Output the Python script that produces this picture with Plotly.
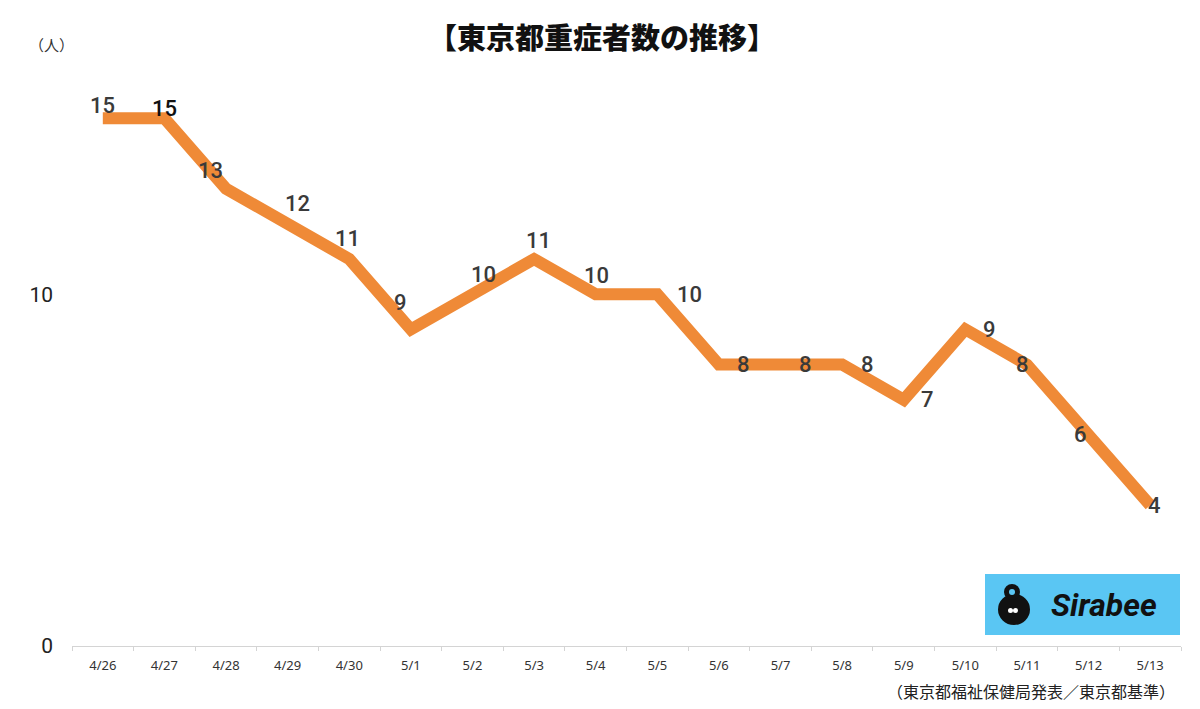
import plotly.graph_objects as go

dates = ["4/26", "4/27", "4/28", "4/29", "4/30", "5/1", "5/2", "5/3", "5/4",
         "5/5", "5/6", "5/7", "5/8", "5/9", "5/10", "5/11", "5/12", "5/13"]
cases = [15, 15, 13, 12, 11, 9, 10, 11, 10, 10, 8, 8, 8, 7, 9, 8, 6, 4]
# label offsets (px) relative to each point
label_dx = [0, 0, -16, 10, -2, -10, 11, 4, 1, 32, 25, 25, 25, 24, 24, -4, -8, 4]
label_dy = [13, 10, 18, 20, 21, 27, 20, 19, 19, 0, 0, 0, 0, 0, 0, 0, 0, 0]

ORANGE = "#EF8A37"
L, R, T, B = 72, 19, 48, 63
W, H = 1200, 709
plot_h = H - T - B
plot_w = W - L - R


def px(xp):
    return (xp - L) / plot_w


def py(yp):
    return (H - B - yp) / plot_h


fig = go.Figure()
fig.add_trace(go.Scatter(
    x=dates, y=cases, mode="lines",
    line=dict(color=ORANGE, width=12),
    hoverinfo="skip", showlegend=False,
))

for i, (d, v) in enumerate(zip(dates, cases)):
    fig.add_annotation(
        x=d, y=v, text=str(v), showarrow=False,
        xshift=label_dx[i], yshift=label_dy[i],
        font=dict(family="Roboto, Noto Sans, sans-serif", size=22, weight=500,
                  color="#111" if i == 1 else "#3a3a3a"),
    )

fig.add_annotation(xref="paper", yref="paper", x=px(602), y=py(36),
                   xanchor="center", yanchor="middle",
                   text="【東京都重症者数の推移】", showarrow=False,
                   font=dict(family="Noto Sans CJK JP", size=29, weight=900, color="#111"))
fig.add_annotation(xref="paper", yref="paper", x=px(27), y=py(44),
                   xanchor="left", yanchor="middle", showarrow=False,
                   text="（人）", font=dict(family="Noto Sans CJK JP", size=15, color="#333"))
fig.add_annotation(xref="paper", yref="paper", x=px(1177), y=py(691),
                   xanchor="right", yanchor="middle", showarrow=False,
                   text="（東京都福祉保健局発表／東京都基準）",
                   font=dict(family="Noto Sans CJK JP", size=16, color="#222"))

fig.update_layout(
    width=W, height=H,
    margin=dict(l=L, r=R, t=T, b=B),
    paper_bgcolor="white", plot_bgcolor="white",
    xaxis=dict(
        type="category", tickson="boundaries", showgrid=False,
        showline=True, linecolor="#d4d4d4", linewidth=1,
        ticks="outside", ticklen=4, tickcolor="#d4d4d4",
        tickfont=dict(family="Noto Sans, sans-serif", size=13, color="#333"),
        range=[-0.5, len(dates) - 0.5], zeroline=False,
        ticklabelstandoff=7,
    ),
    yaxis=dict(
        range=[0, 17], tickvals=[0, 10], showgrid=False, zeroline=False,
        showline=False,
        tickfont=dict(family="Roboto, Noto Sans, sans-serif", size=21, color="#222"),
        ticklabelstandoff=18,
    ),
)

# Sirabee logo badge
BLUE = "#5AC6F3"
fig.add_shape(type="rect", xref="paper", yref="paper",
              x0=px(985), x1=px(1180), y0=py(635), y1=py(574),
              fillcolor=BLUE, line=dict(width=0), layer="above")
fig.add_shape(type="circle", xref="paper", yref="paper",
              x0=px(998), x1=px(1030), y0=py(625), y1=py(594),
              fillcolor="#111", line=dict(width=0), layer="above")
fig.add_shape(type="circle", xref="paper", yref="paper",
              x0=px(1004), x1=px(1020), y0=py(600), y1=py(584),
              fillcolor="#111", line=dict(width=0), layer="above")
fig.add_shape(type="circle", xref="paper", yref="paper",
              x0=px(1009), x1=px(1015), y0=py(595), y1=py(589),
              fillcolor=BLUE, line=dict(width=0), layer="above")
fig.add_shape(type="circle", xref="paper", yref="paper",
              x0=px(1008), x1=px(1013), y0=py(613), y1=py(608),
              fillcolor="white", line=dict(width=0), layer="above")
fig.add_shape(type="circle", xref="paper", yref="paper",
              x0=px(1013), x1=px(1018), y0=py(613), y1=py(608),
              fillcolor="white", line=dict(width=0), layer="above")
fig.add_annotation(xref="paper", yref="paper", x=px(1104), y=py(605),
                   text="<b><i>Sirabee</i></b>", showarrow=False,
                   xanchor="center", yanchor="middle",
                   font=dict(family="Roboto, sans-serif", size=32, weight=900, color="#111"))

fig.write_html("out.html", config={"displayModeBar": False},
               post_script="document.body.style.margin='0';document.body.style.overflow='hidden';")
